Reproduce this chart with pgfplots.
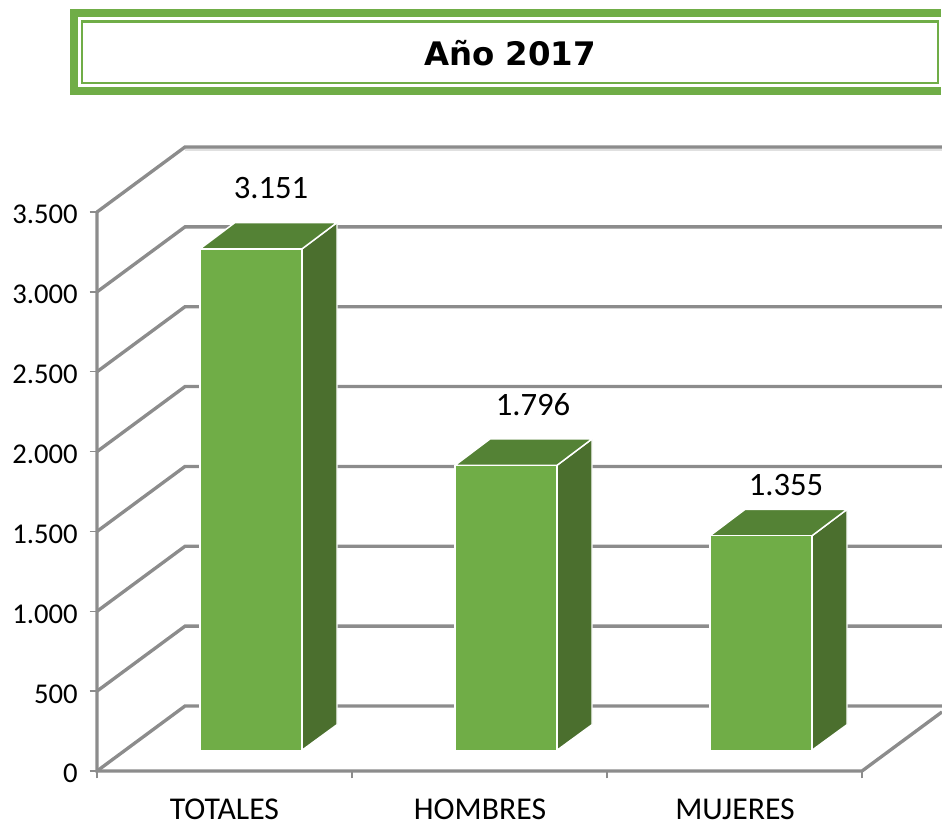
\documentclass[border=0pt]{standalone}
\usepackage{pgfplots}
\pgfplotsset{compat=1.18}
\usepackage{fontspec}
\setmainfont{Carlito}
\newfontfamily\titlefont{DejaVu Sans}
\definecolor{barfront}{HTML}{70AD47}
\definecolor{bartop}{HTML}{548235}
\definecolor{barside}{HTML}{4B6F2E}
\definecolor{gridgray}{HTML}{8C8C8C}

% left edge of the front face (px), value
\newcommand{\bartres}[2]{%
  \pgfmathsetmacro{\ytop}{118+#2}%
  \pgfmathsetmacro{\ytopb}{\ytop+165}%
  \pgfmathsetmacro{\xr}{#1+102}%
  \pgfmathsetmacro{\xrb}{#1+137}%
  \pgfmathsetmacro{\xlb}{#1+35}%
  \addplot[draw=white,line width=1.1pt,fill=barside] coordinates {(\xr,130) (\xrb,290) (\xrb,\ytopb) (\xr,\ytop) (\xr,130)};
  \addplot[draw=white,line width=1.1pt,fill=bartop] coordinates {(#1,\ytop) (\xlb,\ytopb) (\xrb,\ytopb) (\xr,\ytop) (#1,\ytop)};
  \addplot[draw=white,line width=1.1pt,fill=barfront] coordinates {(#1,130) (#1,\ytop) (\xr,\ytop) (\xr,130) (#1,130)};
}

\pgfplotstableread{
x y lab
271 3651 3.151
533 2292 1.796
786 1791 1.355
}\etiquetas

\begin{document}
\begin{tikzpicture}
\useasboundingbox (0,0) rectangle (706.5pt,-618pt);
\begin{scope}[x=0.75pt,y=-0.75pt]
  \fill[barfront] (70,9) rectangle (942,95);
  \fill[white] (78,17) rectangle (942,87);
  \draw[barfront,line width=2.2pt] (82,21.5) rectangle (938,83);
  \fill[white] (941,9) rectangle (942,95);
  \node[font=\titlefont\bfseries\fontsize{24.3}{28}\selectfont,text=black] at (510,53) {Año 2017};
\end{scope}
\begin{axis}[
  at={(72.75pt,-578.25pt)},
  anchor=south west,
  scale only axis,
  width=633.75pt,
  height=468pt,
  xmin=97, xmax=942,
  ymin=0, ymax=3907,
  clip=false,
  axis line style={draw=none},
  tick pos=left,
  tick align=outside,
  tick style={draw=gridgray,line width=1pt},
  major tick length=5.5pt,
  ytick={0,500,...,3500},
  xtick={97,352,607,862},
  xticklabels={},
  extra x ticks={224.5,480,735},
  extra x tick labels={TOTALES,HOMBRES,MUJERES},
  extra x tick style={major tick length=0pt,xticklabel style={font=\fontsize{23.8}{24}\selectfont,inner sep=0pt,yshift=-20.5pt}},
  /pgf/number format/assume math mode=true,
  /pgf/number format/1000 sep={.},
  yticklabel style={font=\fontsize{21.5}{23}\selectfont,xshift=-5.5pt,yshift=-2pt},
]
% walls: each level runs back from the left axis and along the rear wall
\addplot[draw=black!12,line width=2.2pt] coordinates {(185,3893) (942,3893)};
\addplot[gridgray,line width=2.5pt] coordinates {(97,0) (185,407) (942,407)};
\addplot[gridgray,line width=2.5pt] coordinates {(97,500) (185,907) (942,907)};
\addplot[gridgray,line width=2.5pt] coordinates {(97,1000) (185,1407) (942,1407)};
\addplot[gridgray,line width=2.5pt] coordinates {(97,1500) (185,1907) (942,1907)};
\addplot[gridgray,line width=2.5pt] coordinates {(97,2000) (185,2407) (942,2407)};
\addplot[gridgray,line width=2.5pt] coordinates {(97,2500) (185,2907) (942,2907)};
\addplot[gridgray,line width=2.5pt] coordinates {(97,3000) (185,3407) (942,3407)};
\addplot[gridgray,line width=2.5pt] coordinates {(97,3500) (185,3907) (942,3907)};
% left axis and floor
\addplot[gridgray,line width=2.5pt] coordinates {(97,3500) (97,0) (862,0) (942,370)};
\bartres{200}{3151}
\bartres{455}{1796}
\bartres{710}{1355}
\addplot[draw=none,mark=none,
  nodes near coords,
  point meta=explicit symbolic,
  nodes near coords style={anchor=center,font=\fontsize{24.5}{26}\selectfont,text=black},
] table[x=x,y=y,meta=lab] {\etiquetas};
\end{axis}
\end{tikzpicture}
\end{document}
